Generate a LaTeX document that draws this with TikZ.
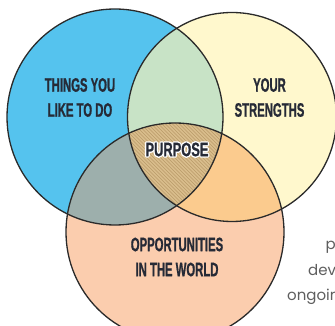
\documentclass[tikz,border=0pt]{standalone}
\usepackage{fontspec}
\newfontfamily\condb[FakeStretch=0.58,FakeBold=0.8]{Liberation Sans}
\newfontfamily\condp[FakeStretch=0.66,FakeBold=0.8]{Liberation Sans}
\newfontfamily\condh[FakeStretch=0.66]{Liberation Sans}
\newfontfamily\greyfont{Poppins}
\definecolor{cblue}{HTML}{55C3EE}
\definecolor{cyellow}{HTML}{FFF8CD}
\definecolor{corange}{HTML}{FBCDAE}
\definecolor{cgreen}{HTML}{C8E3C6}
\definecolor{cteal}{HTML}{9DAFAC}
\definecolor{cpeach}{HTML}{FBCB8E}
\definecolor{ctan}{HTML}{D9BD8C}
\definecolor{chatch}{HTML}{B99A68}
\definecolor{cline}{HTML}{2A2A2A}
\definecolor{ctext}{HTML}{262A36}
\definecolor{cgrey}{HTML}{5E5E5E}
\tikzset{
  outline/.style={draw=cline, line width=1.3pt},
  label/.style={text=ctext, align=center, font=\condb\bfseries\fontsize{19.5}{25}\selectfont, inner sep=0pt},
  purp/.style={text=ctext, inner sep=0pt, font=\condp\bfseries\fontsize{19.5}{25}\selectfont},
  halo/.style={text=white, inner sep=0pt, font=\condh\bfseries\fontsize{19.5}{25}\selectfont},
  greytxt/.style={text=cgrey, anchor=base west, inner sep=0pt, font=\greyfont\fontsize{15}{18}\selectfont},
  hatch/.style={draw=chatch, line width=0.6pt}
}
\begin{document}
\begin{tikzpicture}[x=1pt,y=-1pt]
\useasboundingbox (0,0) rectangle (335,326);
\clip (0,0) rectangle (335,326);
\coordinate (B) at (115,117);
\coordinate (Y) at (232,117);
\coordinate (O) at (175,232);
\def\rB{108}\def\rY{104.5}\def\rO{109}
% base fills
\fill[cblue] (B) circle[radius=\rB];
\fill[cyellow] (Y) circle[radius=\rY];
\fill[corange] (O) circle[radius=\rO];
% pairwise overlaps
\begin{scope}
  \clip (B) circle[radius=\rB];
  \fill[cgreen] (Y) circle[radius=\rY];
  \fill[cteal] (O) circle[radius=\rO];
\end{scope}
\begin{scope}
  \clip (Y) circle[radius=\rY];
  \fill[cpeach] (O) circle[radius=\rO];
\end{scope}
% centre
\begin{scope}
  \clip (B) circle[radius=\rB];
  \clip (Y) circle[radius=\rY];
  \clip (O) circle[radius=\rO];
  \fill[ctan] (100,100) rectangle (260,230);
  \foreach \i in {-120,-116.5,...,120} {
    \draw[hatch] (177+\i-80,100) -- ++(140,140);
  }
\end{scope}
% outlines
\draw[outline] (B) circle[radius=\rB];
\draw[outline] (Y) circle[radius=\rY];
\draw[outline] (O) circle[radius=\rO];
% labels
\node[label] (like) at (80,97.5) {THINGS YOU\\LIKE TO DO};
\node[label] (str) at (269.5,97.5) {YOUR\\STRENGTHS};
\node[label] (opp) at (177,257) {OPPORTUNITIES\\IN THE WORLD};
\node[halo] (halo) at (177,149.5) {\special{pdf:literal direct 2 Tr 3 w 1 j 1 1 1 RG}PURPOSE\special{pdf:literal direct 0 Tr}};
\node[purp] (pur) at (177,149.5) {PURPOSE};
% cut-off grey text on the right
\node[greytxt] (g1) at (325.5,250) {p};
\node[greytxt] (g2) at (308,276) {dev};
\node[greytxt] (g3) at (287,300) {ongoin};
\end{tikzpicture}
\end{document}
